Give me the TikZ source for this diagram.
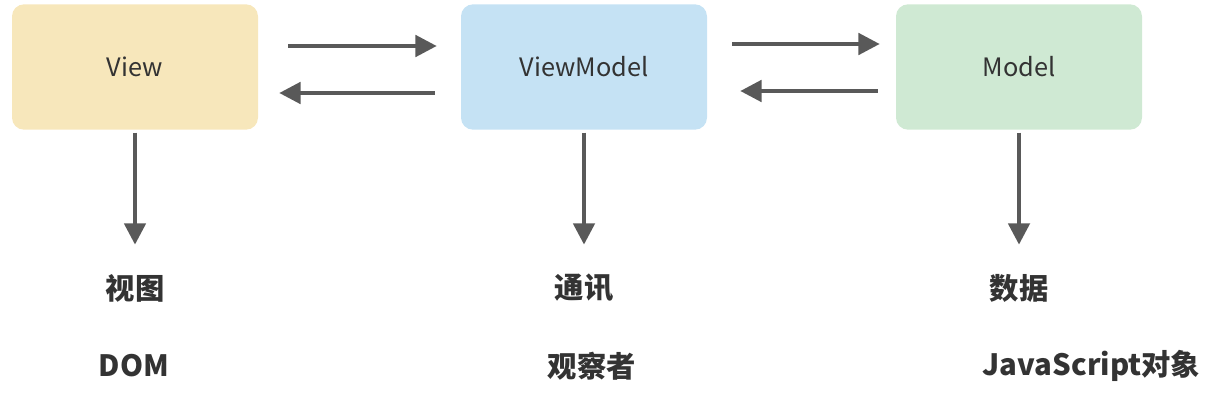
\documentclass[tikz,border=0pt]{standalone}
\usepackage{fontspec}
\setmainfont{Noto Sans CJK SC}
\usetikzlibrary{positioning}
\usetikzlibrary{arrows.meta}
\usetikzlibrary{calc}
\definecolor{figAmarillo}{RGB}{247,231,187}
\definecolor{figAzul}{RGB}{197,226,244}
\definecolor{figVerde}{RGB}{207,233,211}
\definecolor{figFlecha}{RGB}{89,89,89}
\definecolor{figTexto}{RGB}{51,51,51}
\tikzset{
  caja/.style={
    rectangle, rounded corners=9pt, draw=none,
    minimum height=94pt, minimum width=184.5pt,
    align=center, font=\fontsize{19}{23}\selectfont, text=figTexto, inner sep=4pt
  },
  flecha/.style={-{Triangle[length=16pt,width=16pt]}, line width=3pt, draw=figFlecha},
  etiqueta/.style={font=\fontsize{22}{26}\selectfont\bfseries, text=figTexto, inner sep=0pt}
}
\begin{document}
\begin{tikzpicture}[x=0.75pt, y=-0.75pt]
  \useasboundingbox (0,0) rectangle (1214,404);
  \node[caja, fill=figAmarillo] (v) at (135,67) {View};
  \node[caja, fill=figAzul] (vm) at (584,67) {ViewModel};
  \node[caja, fill=figVerde] (m) at (1019,67) {Model};
  \draw[flecha] ($(v.east)+(30,-21)$) -- ($(vm.west)+(-24,-21)$);
  \draw[flecha] ($(vm.west)+(-26,26)$) -- ($(v.east)+(21,26)$);
  \draw[flecha] ($(vm.east)+(25,-23)$) -- ($(m.west)+(-16,-23)$);
  \draw[flecha] ($(m.west)+(-18,24)$) -- ($(vm.east)+(33,24)$);
  \node[etiqueta] (vd) at (135,288) {视图};
  \node[etiqueta] (vmd) at (584,288) {通讯};
  \node[etiqueta] (md) at (1019,288) {数据};
  \node[etiqueta, anchor=west] (vt) at ($(vd.west)+(-7,78)$) {DOM};
  \node[etiqueta, anchor=west] (vmt) at ($(vmd.west)+(-7,78)$) {观察者};
  \node[etiqueta, anchor=west] (mt) at ($(md.west)+(-7,78)$) {JavaScript对象};
  \draw[flecha] ([yshift=-2pt]v.south) -- ++(0,112);
  \draw[flecha] ([yshift=-2pt]vm.south) -- ++(0,112);
  \draw[flecha] ([yshift=-2pt]m.south) -- ++(0,112);
\end{tikzpicture}
\end{document}
